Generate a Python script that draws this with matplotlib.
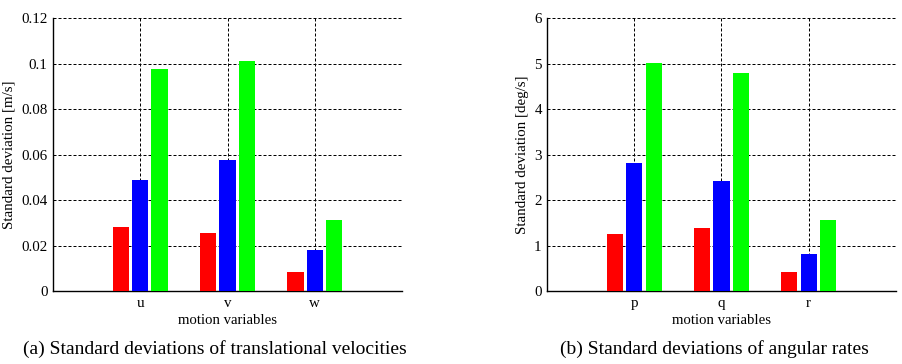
import numpy as np
import matplotlib
matplotlib.use("Agg")
import matplotlib.pyplot as plt

plt.rcParams["font.family"] = ["Liberation Serif", "DejaVu Serif"]

# data
trans_labels = ["u", "v", "w"]
trans_red = [0.0283, 0.0256, 0.0085]
trans_blue = [0.0489, 0.0577, 0.0179]
trans_green = [0.0977, 0.1012, 0.0311]
trans_yticks = [0, 0.02, 0.04, 0.06, 0.08, 0.1, 0.12]
trans_yticklabels = ["0", "0.02", "0.04", "0.06", "0.08", "0.1", "0.12"]

ang_labels = ["p", "q", "r"]
ang_red = [1.26, 1.39, 0.42]
ang_blue = [2.82, 2.42, 0.82]
ang_green = [5.02, 4.80, 1.57]
ang_yticks = [0, 1, 2, 3, 4, 5, 6]

colors = ["#ff0000", "#0000ff", "#00ff00"]


def draw_bars(ax, labels, series, yticks, yticklabels, ylabel):
    x = np.arange(1, len(labels) + 1)
    width = 0.185
    offsets = [-0.22, 0.0, 0.22]
    for vals, off, c in zip(series, offsets, colors):
        ax.bar(x + off, vals, width=width, color=c, zorder=3)
    ax.set_xlim(0, len(labels) + 1)
    ax.set_ylim(yticks[0], yticks[-1])
    ax.set_xticks(x)
    ax.set_xticklabels(labels)
    ax.set_yticks(yticks)
    ax.set_yticklabels(yticklabels)
    ax.tick_params(length=0, labelsize=10.8, pad=4)
    ax.grid(True, color="black", linestyle=(0, (3, 2)), linewidth=0.72, zorder=0)
    ax.set_axisbelow(True)
    for s in ["top", "right"]:
        ax.spines[s].set_visible(False)
    for s in ["left", "bottom"]:
        ax.spines[s].set_linewidth(1.0)
    ax.set_xlabel("motion variables", fontsize=10.6, labelpad=3)
    ax.set_ylabel(ylabel, fontsize=10.8, labelpad=4)


fig = plt.figure(figsize=(9.03, 3.64), dpi=100)
ax1 = fig.add_axes([0.0587, 0.2005, 0.3865, 0.75])
ax2 = fig.add_axes([0.6061, 0.2005, 0.3858, 0.75])

draw_bars(ax1, trans_labels, [trans_red, trans_blue, trans_green],
          trans_yticks, trans_yticklabels, "Standard deviation [m/s]")
draw_bars(ax2, ang_labels, [ang_red, ang_blue, ang_green],
          ang_yticks, [str(t) for t in ang_yticks], "Standard deviation [deg/s]")

fig.text(215 / 903, 1 - 349 / 364, "(a) Standard deviations of translational velocities",
         ha="center", va="center", fontsize=14)
fig.text(714 / 903, 1 - 349 / 364, "(b) Standard deviations of angular rates",
         ha="center", va="center", fontsize=14)

fig.savefig("out.png", dpi=100)
